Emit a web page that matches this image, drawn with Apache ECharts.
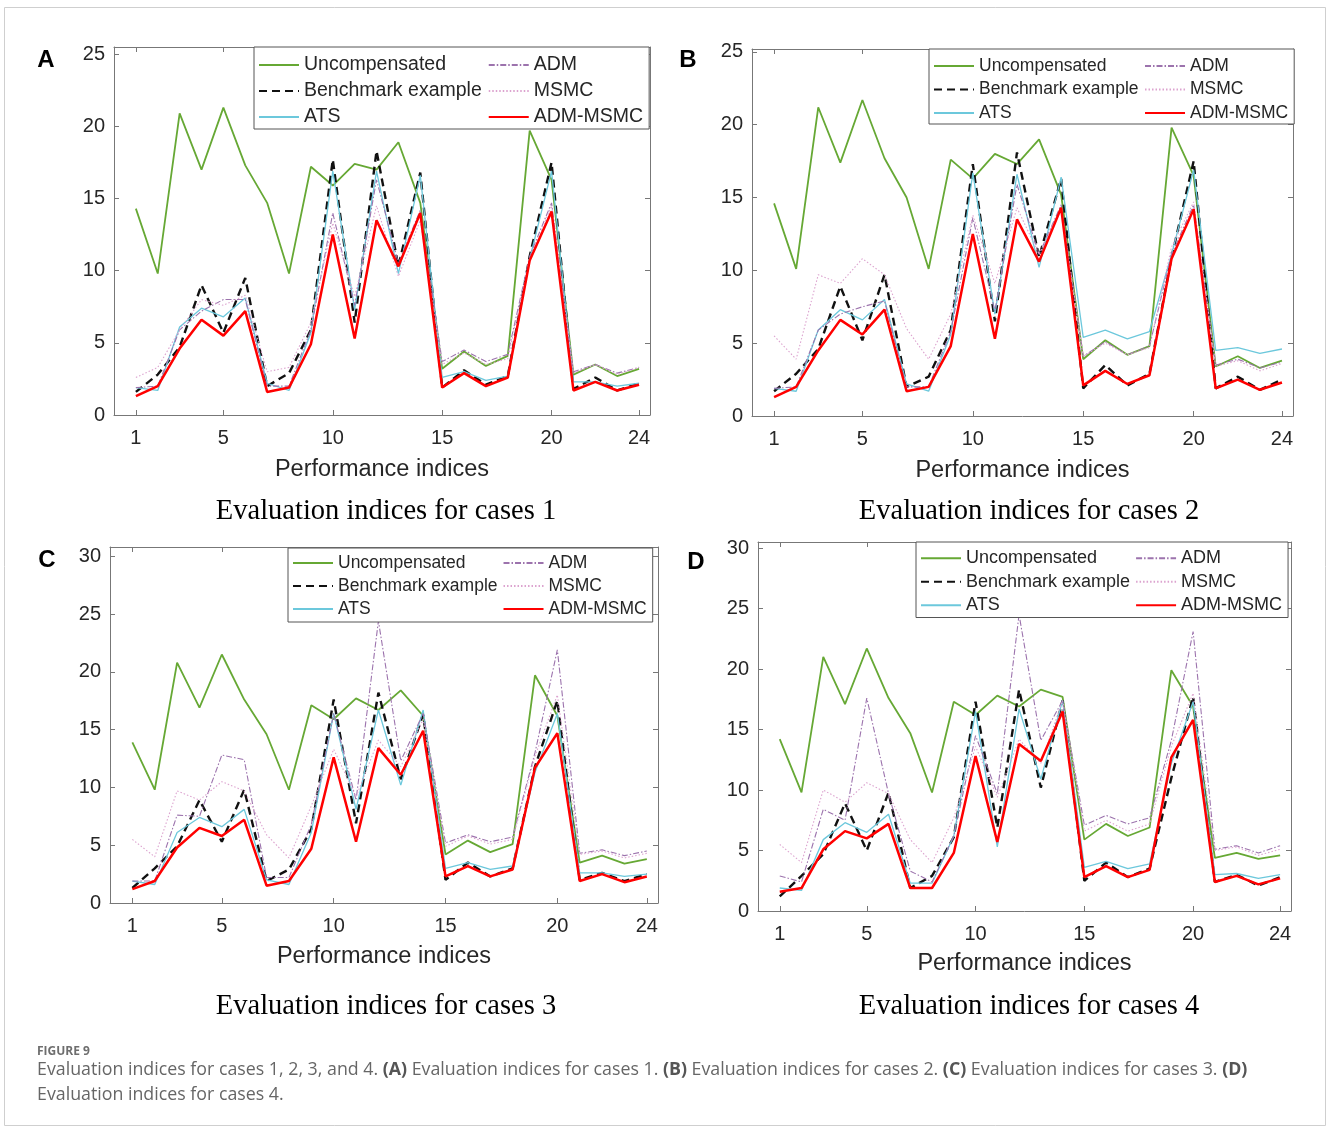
<!DOCTYPE html>
<html>
<head>
<meta charset="utf-8">
<script src="https://cdn.jsdelivr.net/npm/echarts@6/dist/echarts.min.js"></script>
<style>
html,body{margin:0;padding:0;background:#fff;}
#chart{width:1328px;height:1129px;}
</style>
</head>
<body>
<div id="chart"></div>
<script>
// ---------- DATA ----------
const indices = [1,2,3,4,5,6,7,8,9,10,11,12,13,14,15,16,17,18,19,20,21,22,23,24];
const xTickLabels = [1,5,10,15,20,24];
const yTicksAB = [0,5,10,15,20,25];
const yTicksCD = [0,5,10,15,20,25,30];
const seriesNames = ['Uncompensated','Benchmark example','ATS','ADM','MSMC','ADM-MSMC'];
const panelTitles = ['Evaluation indices for cases 1','Evaluation indices for cases 2','Evaluation indices for cases 3','Evaluation indices for cases 4'];
const panelLetters = ['A','B','C','D'];
const xAxisTitle = 'Performance indices';

// Case 1
const uncompA  = [14.3,9.8,20.9,17.0,21.3,17.3,14.7,9.8,17.2,15.9,17.4,17.0,18.9,14.7,3.2,4.4,3.4,4.1,19.7,16.3,2.8,3.5,2.7,3.2];
const benchA   = [1.6,2.8,4.7,9.0,5.7,9.5,2.0,2.9,5.9,17.7,6.4,18.3,10.3,16.8,1.9,3.1,2.1,2.7,11.0,17.5,1.8,2.6,1.7,2.2];
const atsA     = [1.9,1.7,6.1,7.4,6.8,8.1,2.2,1.7,5.7,16.9,7.3,16.9,9.8,16.6,2.6,3.0,2.4,2.7,10.8,16.9,2.3,2.3,2.0,2.2];
const admA     = [1.9,2.0,5.9,7.2,8.0,8.0,2.0,2.0,5.9,14.0,7.6,16.3,10.5,14.2,3.7,4.5,3.7,4.2,11.0,14.7,3.0,3.5,2.9,3.3];
const msmcA    = [2.6,3.3,5.9,8.0,7.6,8.3,3.0,3.3,6.4,13.3,8.2,14.5,9.6,13.5,3.5,4.3,3.5,3.9,10.8,14.5,2.9,3.5,2.8,3.3];
const admMsmcA = [1.3,2.0,4.6,6.6,5.5,7.2,1.6,1.9,4.9,12.5,5.3,13.5,10.3,14.0,1.9,2.9,2.0,2.6,10.7,14.1,1.7,2.3,1.7,2.1];

// Case 2
const uncompB  = [14.6,10.1,21.2,17.4,21.7,17.7,15.0,10.1,17.6,16.3,18.0,17.3,19.0,15.2,3.9,5.2,4.2,4.8,19.8,16.5,3.4,4.1,3.3,3.8];
const benchB   = [1.7,2.9,4.6,8.9,5.2,9.7,2.0,2.7,5.9,17.3,6.5,18.1,10.9,16.3,1.9,3.5,2.1,2.9,10.9,17.5,1.9,2.7,1.8,2.5];
const atsB     = [1.9,1.7,5.9,7.3,6.6,8.0,2.2,1.7,5.6,16.7,7.0,16.6,10.2,16.4,5.4,5.9,5.3,5.8,11.1,16.9,4.5,4.7,4.3,4.6];
const admB     = [1.9,2.0,5.9,7.0,7.5,7.9,2.0,2.0,5.8,13.6,7.2,15.9,11.1,14.5,4.1,5.1,4.2,4.8,11.1,14.5,3.5,3.9,3.3,3.7];
const msmcB    = [5.5,3.9,9.7,9.1,10.8,9.7,6.0,3.9,7.0,13.8,9.1,14.3,11.1,14.3,4.1,5.0,4.2,4.7,11.6,14.7,3.4,3.8,3.1,3.6];
const admMsmcB = [1.3,2.0,4.5,6.6,5.6,7.3,1.7,2.0,4.8,12.5,5.3,13.5,10.6,14.3,2.1,3.1,2.2,2.8,10.8,14.2,1.9,2.5,1.8,2.3];

// Case 3
const uncompC  = [13.9,9.8,20.8,16.9,21.5,17.6,14.6,9.8,17.1,15.9,17.7,16.7,18.4,16.2,4.2,5.4,4.4,5.1,19.7,16.2,3.5,4.1,3.4,3.8];
const benchC   = [1.3,3.0,4.9,8.9,5.3,9.8,1.9,2.9,6.4,17.6,6.9,18.2,10.7,16.3,2.0,3.5,2.3,3.0,11.8,17.5,2.0,2.6,1.9,2.5];
const atsC     = [1.9,1.6,6.1,7.4,6.6,8.1,2.0,1.6,6.1,16.4,8.1,16.7,10.2,16.7,3.0,3.5,2.9,3.2,11.3,16.4,2.6,2.6,2.3,2.5];
const admC     = [1.9,1.9,7.6,7.5,12.8,12.4,2.2,2.2,6.8,16.4,8.9,24.4,12.3,16.4,5.2,5.9,5.3,5.7,13.0,21.9,4.3,4.6,4.1,4.5];
const msmcC    = [5.5,4.0,9.7,8.9,10.5,9.7,5.9,3.9,8.4,13.3,9.2,14.1,11.8,15.9,4.9,5.8,5.1,5.5,12.7,18.0,4.2,4.5,3.9,4.3];
const admMsmcC = [1.2,1.9,4.8,6.5,5.8,7.2,1.5,1.9,4.7,12.6,5.3,13.4,11.1,14.9,2.3,3.2,2.3,2.9,11.7,14.7,1.9,2.5,1.8,2.3];

// Case 4
const uncompD  = [14.2,9.8,21.0,17.1,21.7,17.6,14.7,9.8,17.3,16.2,17.8,16.9,18.3,17.7,5.9,7.2,6.2,6.9,19.9,16.9,4.4,4.8,4.3,4.6];
const benchD   = [1.2,2.9,4.7,8.9,5.0,9.8,1.9,2.9,6.1,17.3,6.9,18.3,10.2,17.4,2.5,4.0,2.8,3.5,11.0,17.7,2.4,3.0,2.1,2.8];
const atsD     = [1.9,1.7,5.9,7.3,6.5,8.0,2.3,2.3,6.2,16.5,5.3,16.7,10.9,17.4,3.6,4.1,3.5,3.9,12.2,17.3,3.0,3.1,2.7,3.0];
const admD     = [2.9,2.4,8.4,7.5,17.6,9.7,3.3,2.4,6.2,14.5,9.7,24.5,14.1,17.4,7.1,7.9,7.2,7.7,14.1,23.1,5.1,5.4,4.8,5.4];
const msmcD    = [5.5,4.0,10.0,9.0,10.6,9.7,5.9,4.0,7.7,13.6,9.4,14.2,12.2,17.4,6.6,7.5,6.6,7.2,13.6,18.0,5.0,5.3,4.6,5.1];
const admMsmcD = [1.6,1.9,5.1,6.6,6.0,7.2,1.9,1.9,4.8,12.8,5.7,13.8,12.4,16.5,2.8,3.7,2.8,3.4,12.7,15.8,2.4,2.9,2.2,2.7];

const panelData = [
  [uncompA, benchA, atsA, admA, msmcA, admMsmcA],
  [uncompB, benchB, atsB, admB, msmcB, admMsmcB],
  [uncompC, benchC, atsC, admC, msmcC, admMsmcC],
  [uncompD, benchD, atsD, admD, msmcD, admMsmcD]
];

// ---------- LAYOUT / STYLE ----------
const grids = [
  {left:114, top:47,  width:536, height:368, ymax:25.5, yt:yTicksAB, legend:{left:254, top:47, fs:19.5, lh:20, gap:6, pad:[8,6,2,4]},  letter:[46,60],  sub:[386,512], xnameGap:43},
  {left:752, top:49,  width:541, height:367, ymax:25.2, yt:yTicksAB, legend:{left:929, top:49, fs:17.5, lh:18, gap:5.5, pad:[8,6,2,4]}, letter:[688,60], sub:[1029,512], xnameGap:43},
  {left:110, top:547, width:548, height:356, ymax:30.8, yt:yTicksCD, legend:{left:288, top:548, fs:17.5, lh:18, gap:5, pad:[6,6,4,4]}, letter:[47,560],  sub:[386,1007], xnameGap:42},
  {left:758, top:542, width:533, height:369, ymax:30.5, yt:yTicksCD, legend:{left:916, top:542, fs:18, lh:18.5, gap:5, pad:[7,6,3,4]}, letter:[696,562], sub:[1029,1007], xnameGap:41}
];

const styles = [
  {color:'#66a834', width:1.8, type:'solid'},
  {color:'#111111', width:2.4, type:[8,5]},
  {color:'#6cc8dc', width:1.3, type:'solid'},
  {color:'#9c73ad', width:1.1, type:[6,2,1.5,2]},
  {color:'#dca3cf', width:1.1, type:[1.5,2]},
  {color:'#ff0000', width:2.5, type:'solid'}
];

const axisColor = '#777';
const textColor = '#262626';
const FONT = '"Liberation Sans", Arial, sans-serif';

const option = {
  animation:false,
  backgroundColor:'#ffffff',
  grid:[], xAxis:[], yAxis:[], series:[], legend:[], graphic:[]
};

grids.forEach((g, p) => {
  option.grid.push({left:g.left, top:g.top, width:g.width, height:g.height, containLabel:false, outerBoundsMode:'none'});
  option.xAxis.push({
    type:'value', gridIndex:p, min:0, max:24.5, position:'bottom',
    name: xAxisTitle, nameLocation:'middle', nameGap:g.xnameGap,
    nameTextStyle:{fontSize:23.5, color:textColor, fontFamily:FONT},
    axisLine:{show:true, onZero:false, lineStyle:{color:axisColor, width:1}},
    axisTick:{show:true, inside:true, length:5, customValues:xTickLabels, lineStyle:{color:axisColor}},
    axisLabel:{show:true, customValues:xTickLabels, fontSize:20, color:textColor, fontFamily:FONT, margin:13},
    splitLine:{show:false}
  });
  option.xAxis.push({
    type:'value', gridIndex:p, min:0, max:24.5, position:'top',
    axisLine:{show:true, onZero:false, lineStyle:{color:axisColor, width:1}},
    axisTick:{show:true, inside:true, length:5, customValues:xTickLabels, lineStyle:{color:axisColor}},
    axisLabel:{show:false}, splitLine:{show:false}
  });
  option.yAxis.push({
    type:'value', gridIndex:p, min:0, max:g.ymax, position:'left',
    axisLine:{show:true, onZero:false, lineStyle:{color:axisColor, width:1}},
    axisTick:{show:true, inside:true, length:5, customValues:g.yt, lineStyle:{color:axisColor}},
    axisLabel:{show:true, customValues:g.yt, fontSize:20, color:textColor, fontFamily:FONT, margin:9},
    splitLine:{show:false}
  });
  option.yAxis.push({
    type:'value', gridIndex:p, min:0, max:g.ymax, position:'right',
    axisLine:{show:true, onZero:false, lineStyle:{color:axisColor, width:1}},
    axisTick:{show:true, inside:true, length:5, customValues:g.yt, lineStyle:{color:axisColor}},
    axisLabel:{show:false}, splitLine:{show:false}
  });
  panelData[p].forEach((vals, s) => {
    option.series.push({
      type:'line', name:seriesNames[s],
      xAxisIndex:p*2, yAxisIndex:p*2,
      data: indices.map((x,i)=>[x, vals[i]]),
      symbol:'none', showSymbol:false,
      lineStyle:{color:styles[s].color, width:styles[s].width, type:styles[s].type},
      itemStyle:{color:styles[s].color},
      z: 2 + s,
      emphasis:{disabled:true}
    });
  });
  option.legend.push({
    data: seriesNames.map(n=>({name:n})),
    orient:'vertical',
    left:g.legend.left, top:g.legend.top,
    height: g.legend.lh*3 + g.legend.gap*2 + 2,
    itemWidth:40, itemHeight:14, itemGap:g.legend.gap, itemTextGap:4,
    padding:g.legend.pad,
    backgroundColor:'#ffffff', borderColor:'#555', borderWidth:1, borderRadius:0,
    selectedMode:false,
    itemStyle:{opacity:0, borderWidth:0},
    textStyle:{fontSize:g.legend.fs, lineHeight:g.legend.lh, color:textColor, fontFamily:FONT},
    z:20
  });
  option.graphic.push({
    type:'text', x:g.letter[0], y:g.letter[1], z:30,
    style:{text:panelLetters[p], fontSize:24, fontWeight:'bold', fill:'#000', fontFamily:FONT, align:'center', verticalAlign:'middle'}
  });
  option.graphic.push({
    type:'text', x:g.sub[0], y:g.sub[1], z:30,
    style:{text:panelTitles[p], fontSize:28.5, fill:'#000', fontFamily:'"Liberation Serif", "Times New Roman", serif', align:'center', verticalAlign:'middle'}
  });
});

// outer frame and caption
option.graphic.push({
  type:'rect', z:0, shape:{x:4.5, y:7.5, width:1321, height:1118},
  style:{fill:'none', stroke:'#cfcfcf', lineWidth:1}
});
const capFont = '"Open Sans", "Noto Sans", sans-serif';
option.graphic.push({
  type:'text', x:37, y:1052, z:30,
  style:{text:'FIGURE 9', fontSize:12, fontWeight:'bold', fill:'#6e6e6e', fontFamily:capFont, verticalAlign:'middle'}
});
option.graphic.push({
  type:'text', x:37, y:1070, z:30,
  style:{
    text:'{n|Evaluation indices for cases 1, 2, 3, and 4. }{b|(A)}{n| Evaluation indices for cases 1. }{b|(B)}{n| Evaluation indices for cases 2. }{b|(C)}{n| Evaluation indices for cases 3. }{b|(D)}',
    verticalAlign:'middle',
    rich:{
      n:{fontSize:17.8, fill:'#666', fontFamily:capFont},
      b:{fontSize:17.8, fill:'#555', fontWeight:'bold', fontFamily:capFont}
    }
  }
});
option.graphic.push({
  type:'text', x:37, y:1095, z:30,
  style:{text:'Evaluation indices for cases 4.', fontSize:17.8, fill:'#666', fontFamily:capFont, verticalAlign:'middle'}
});

const chart = echarts.init(document.getElementById('chart'), null, {renderer:'canvas'});
chart.setOption(option);
</script>
</body>
</html>
